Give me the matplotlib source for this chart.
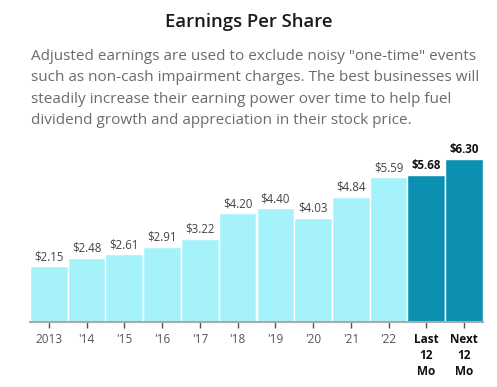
import matplotlib.pyplot as plt

plt.rcParams['font.family'] = ['Open Sans', 'DejaVu Sans']

labels = ['2013', "'14", "'15", "'16", "'17", "'18", "'19", "'20", "'21", "'22",
          'Last\n12\nMo', 'Next\n12\nMo']
eps = [2.15, 2.48, 2.61, 2.91, 3.22, 4.20, 4.40, 4.03, 4.84, 5.59, 5.68, 6.30]
highlight = [False] * 10 + [True, True]

light = '#a6f2fb'
dark = '#0b90b2'

fig = plt.figure(figsize=(4.97, 3.87), dpi=100)

fig.text(0.5, 1 - 22 / 387, 'Earnings Per Share', ha='center', va='center',
         fontsize=13.3, fontweight='semibold', color='#1a1a1a')
desc = ('Adjusted earnings are used to exclude noisy "one-time" events\n'
        'such as non-cash impairment charges. The best businesses will\n'
        'steadily increase their earning power over time to help fuel\n'
        'dividend growth and appreciation in their stock price.')
fig.text(31 / 497, 1 - 49 / 387, desc, ha='left', va='top', fontsize=11,
         color='#6b6b6b', linespacing=1.57)

ax = fig.add_axes([30 / 497, 1 - 322 / 387, 453 / 497, (322 - 159) / 387])
x = list(range(len(eps)))
colors = [dark if h else light for h in highlight]
ax.bar(x, eps, width=1.0, color=colors, edgecolor='white', linewidth=1)

for xi, v, h in zip(x, eps, highlight):
    ax.text(xi, v + 0.12, f'${v:.2f}', ha='center', va='bottom',
            fontsize=8.3, color='#111111' if h else '#444444',
            fontweight='bold' if h else 'normal', clip_on=False)

ax.set_xlim(-0.5, len(eps) - 0.5)
ax.set_ylim(0, 6.3)
ax.set_xticks(x)
ax.set_xticklabels(labels, fontsize=8.5, linespacing=1.28)
for lab, h in zip(ax.get_xticklabels(), highlight):
    if h:
        lab.set_fontweight('bold')
        lab.set_color('#111111')
    else:
        lab.set_color('#555555')
ax.tick_params(axis='x', length=4, width=1, color='#555555', pad=4)
ax.set_yticks([])
for s in ['top', 'right', 'left']:
    ax.spines[s].set_visible(False)
ax.spines['bottom'].set_color('#aaaaaa')
ax.spines['bottom'].set_linewidth(1.5)

fig.savefig('out.png', dpi=100)
